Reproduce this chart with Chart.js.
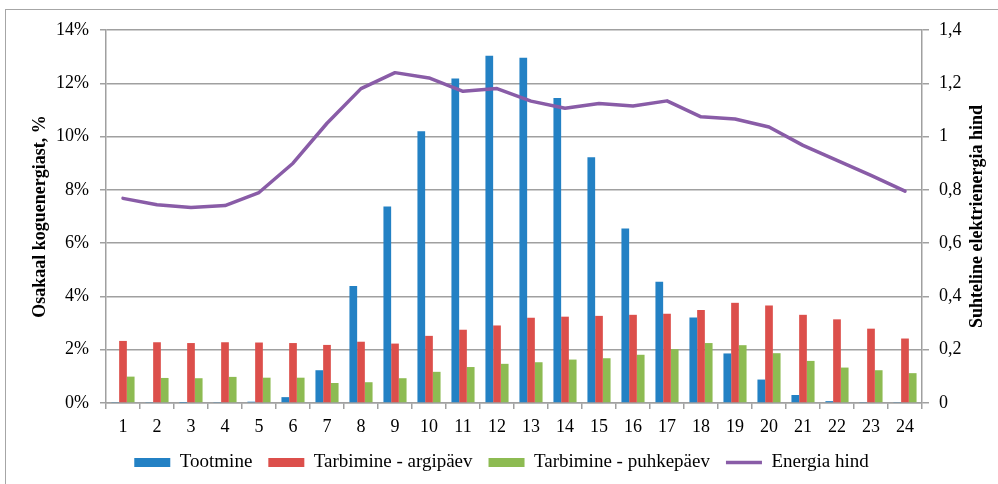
<!DOCTYPE html>
<html>
<head>
<meta charset="utf-8">
<script src="https://cdn.jsdelivr.net/npm/chart.js@4"></script>
<style>
  html, body { margin: 0; padding: 0; background: #fff; overflow: hidden; }
  #wrap { position: relative; width: 998px; height: 484px; }
  #frame { position: absolute; left: 5px; top: 9px; width: 1000px; height: 500px; border: 1px solid #a6a6a6; box-sizing: border-box; }
  canvas { position: absolute; left: 0; top: 0; }
</style>
</head>
<body>
<div id="wrap">
  <div id="frame"></div>
  <canvas id="myChart" width="998" height="484"></canvas>
</div>
<script>
// tunnid
const tunnid = ["1","2","3","4","5","6","7","8","9","10","11","12","13","14","15","16","17","18","19","20","21","22","23","24"];

// osakaal koguenergiast, %
const tootmine = [0.02,0.02,0.01,0.02,0.05,0.22,1.23,4.39,7.38,10.2,12.18,13.03,12.96,11.45,9.22,6.55,4.55,3.21,1.86,0.88,0.30,0.07,0.02,0.02];
const tarbimineArgipaev = [2.33,2.28,2.25,2.28,2.27,2.25,2.18,2.30,2.23,2.52,2.75,2.91,3.20,3.24,3.27,3.31,3.35,3.49,3.76,3.66,3.31,3.14,2.79,2.42];
const tarbiminePuhkepaev = [0.99,0.94,0.93,0.98,0.95,0.95,0.75,0.78,0.93,1.17,1.35,1.47,1.53,1.63,1.68,1.81,2.02,2.25,2.17,1.87,1.58,1.33,1.23,1.12];

// suhteline elektrienergia hind
const energiaHind = [0.768,0.744,0.734,0.741,0.79,0.90,1.05,1.18,1.24,1.22,1.17,1.18,1.133,1.106,1.124,1.115,1.134,1.074,1.066,1.036,0.967,0.911,0.854,0.795];

// parema telje sildid (0 ... 1,4)
const hinnaSildid = ["0","0,2","0,4","0,6","0,8","1","1,2","1,4"];
const paremPealkiri = "Suhteline elektrienergia hind";

const hall = "#a0a0a0";
const fontPere = "'Liberation Serif', 'Times New Roman', serif";
Chart.defaults.font.family = fontPere;
Chart.defaults.font.size = 18;
Chart.defaults.color = "#000";

// parema telje pealkiri loetakse alt üles (nagu Excelis), seega joonistan ise
const paremPealkiriPlugin = {
  id: "paremPealkiri",
  afterDraw(chart) {
    const c = chart.ctx;
    const area = chart.chartArea;
    c.save();
    c.translate(977, (area.top + area.bottom) / 2);
    c.rotate(-Math.PI / 2);
    c.font = "bold 18px " + fontPere;
    c.fillStyle = "#000";
    c.textAlign = "center";
    c.textBaseline = "middle";
    c.fillText(paremPealkiri, 0, 0);
    c.restore();
  }
};

const ctx = document.getElementById("myChart").getContext("2d");
new Chart(ctx, {
  type: "bar",
  data: {
    labels: tunnid,
    datasets: [
      { label: "Tootmine", data: tootmine, backgroundColor: "#2381c4", yAxisID: "y", order: 1, pointStyle: "rect" },
      { label: "Tarbimine - argipäev", data: tarbimineArgipaev, backgroundColor: "#dc4f4b", yAxisID: "y", order: 1, pointStyle: "rect" },
      { label: "Tarbimine - puhkepäev", data: tarbiminePuhkepaev, backgroundColor: "#8dbb52", yAxisID: "y", order: 1, pointStyle: "rect" },
      {
        type: "line",
        label: "Energia hind",
        data: energiaHind,
        yAxisID: "y1",
        borderColor: "#895ca7",
        backgroundColor: "#895ca7",
        borderWidth: 3.5,
        borderJoinStyle: "round",
        borderCapStyle: "round",
        pointRadius: 0,
        tension: 0,
        order: 0,
        pointStyle: "line"
      }
    ]
  },
  options: {
    responsive: false,
    animation: false,
    categoryPercentage: 0.68,
    barPercentage: 1.0,
    layout: { padding: { left: 10, right: 5, top: 30, bottom: 2 } },
    plugins: {
      legend: {
        position: "bottom",
        labels: {
          usePointStyle: true,
          pointStyleWidth: 36,
          boxHeight: 9,
          padding: 16,
          color: "#000",
          font: { size: 19 },
          sort: (a, b) => a.datasetIndex - b.datasetIndex
        }
      },
      tooltip: { enabled: false }
    },
    scales: {
      x: {
        offset: true,
        grid: { offset: true, drawOnChartArea: false, drawTicks: true, tickLength: 6, color: hall, lineWidth: 1.5 },
        border: { display: true, color: hall, width: 1.5 },
        ticks: { autoSkip: false, maxRotation: 0, padding: 7 },
        afterFit: (s) => { s.height = 34; }
      },
      y: {
        position: "left",
        min: 0,
        max: 14,
        ticks: { stepSize: 2, padding: 11, callback: (v) => v + "%" },
        grid: { color: hall, lineWidth: 1.5, tickLength: 6 },
        border: { display: true, color: hall, width: 1.5 },
        title: { display: true, text: "Osakaal koguenergiast, %", font: { weight: "bold", size: 18 }, padding: { top: 20, bottom: 0 } },
        afterFit: (s) => { s.width = 96; }
      },
      y1: {
        position: "right",
        min: 0,
        max: 1.4,
        ticks: { stepSize: 0.2, padding: 10, callback: (v, i) => hinnaSildid[i] },
        grid: { drawOnChartArea: false, color: hall, lineWidth: 1.5, tickLength: 7 },
        border: { display: true, color: hall, width: 1.5 },
        afterFit: (s) => { s.width = 71; }
      }
    }
  },
  plugins: [paremPealkiriPlugin]
});
</script>
</body>
</html>
